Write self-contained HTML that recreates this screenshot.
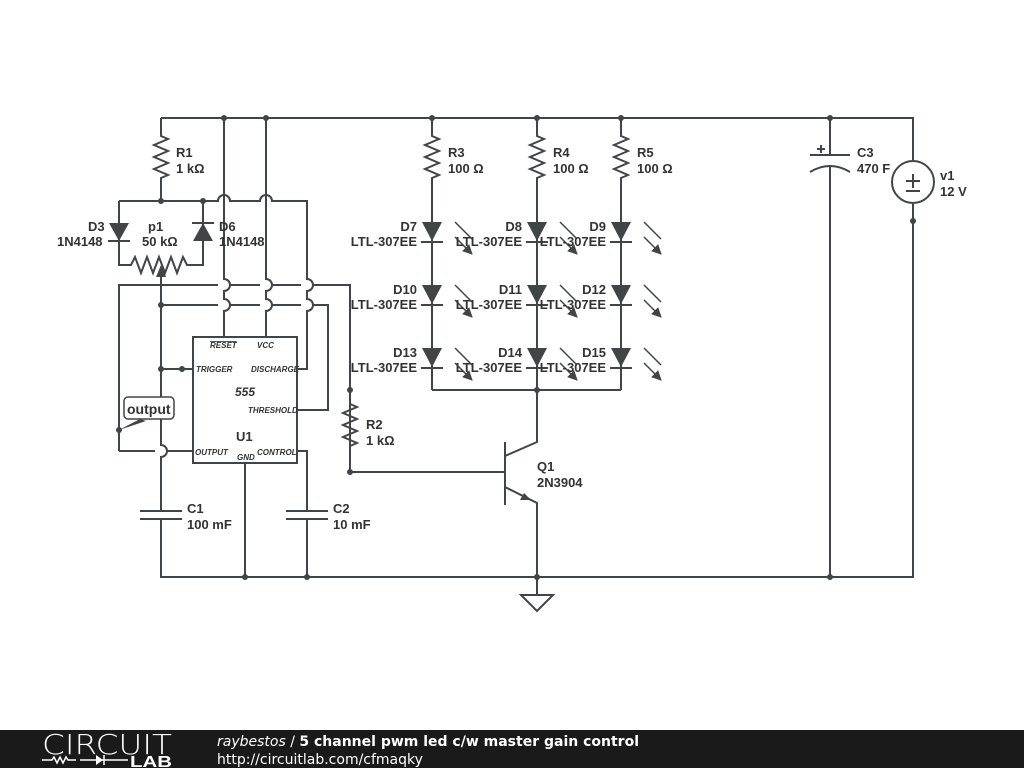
<!DOCTYPE html>
<html><head><meta charset="utf-8"><style>
body{margin:0;width:1024px;height:768px;background:#fff;overflow:hidden}
svg{display:block}
text{font-family:"Liberation Sans",sans-serif;fill:#333}
</style></head><body>
<svg width="1024" height="768" viewBox="0 0 1024 768">
<defs><marker id="m" markerWidth="10" markerHeight="10" refX="9" refY="5" orient="auto" markerUnits="userSpaceOnUse"><path d="M0 0L10 5L0 10Z" fill="#404547"/></marker></defs>
<g stroke="#404547" stroke-width="2" fill="none">
<path d="M161 118H913V160M913 204V577H161V519M161 511V470"/>
<path d="M161 118V136l7 3-14 6 14 6-14 6 14 6-14 6 14 6-7 3V201"/>
<path d="M119 201H218a6 6 0 0 1 12 0H260a6 6 0 0 1 12 0H307V279a6 6 0 0 1 0 12V299a6 6 0 0 1 0 12V369H297"/>
<path d="M119 201V265H131l4-8 6 16 6-16 6 16 6-16 6 16 6-16 6 16 6-16 4 8H203V201"/>
<path d="M224 118V279a6 6 0 0 1 0 12V299a6 6 0 0 1 0 12V337M266 118V279a6 6 0 0 1 0 12V299a6 6 0 0 1 0 12V337"/>
<path d="M119 451V285H218M230 285H260M272 285H301M313 285H350V472H505"/>
<path d="M161 305H218M230 305H260M272 305H301M313 305H328V410H297"/>
<path d="M161 272V445a6 6 0 0 1 0 12V470M161 369H193"/>
<path d="M119 451H155M167 451H193"/>
<rect x="193" y="337" width="104" height="126"/>
<path d="M245 463V577M297 451H307V511M307 519V577"/>
<path d="M140 511H182M140 519H182M286 511H328M286 519H328"/>
<path d="M432 118V136l7 3-14 6 14 6-14 6 14 6-14 6 14 6-7 3V390M537 118V136l7 3-14 6 14 6-14 6 14 6-14 6 14 6-7 3V390M621 118V136l7 3-14 6 14 6-14 6 14 6-14 6 14 6-7 3V390M432 390H621"/>
<path d="M421 242H443M526 242H548M610 242H632M421 305H443M526 305H548M610 305H632M421 368H443M526 368H548M610 368H632"/>
<path d="M350 404l7 3-14 6 14 6-14 6 14 6-14 6 14 6-7 3"/>
<path d="M505 442V505M505 456L537 442V390M505 487L537 503V577"/>
<path d="M537 577V595M521 595H553L537 611Z"/>
<path d="M830 118V155M810 155H850M810 172Q830 160 850 172M830 165V577M817 149h8M821 145v8"/>
<circle cx="913" cy="182" r="21"/>
<path d="M913 174v14M906 181h14M906 191h14"/>
</g>
<g fill="#404547">
<path d="M109 223H129L119 241Z"/><path d="M193 241H213L203 223Z"/>
<path d="M108 241H130M192 223H214" stroke="#404547" stroke-width="2"/>
<path d="M161 265L156 277H166Z"/>
<path d="M422 222H442L432 241Z"/><path d="M527 222H547L537 241Z"/><path d="M611 222H631L621 241Z"/>
<path d="M422 285H442L432 304Z"/><path d="M527 285H547L537 304Z"/><path d="M611 285H631L621 304Z"/>
<path d="M422 348H442L432 367Z"/><path d="M527 348H547L537 367Z"/><path d="M611 348H631L621 367Z"/>
<path d="M531 500L520 500L524 493Z"/>
<circle cx="224" cy="118" r="3"/><circle cx="266" cy="118" r="3"/><circle cx="432" cy="118" r="3"/><circle cx="537" cy="118" r="3"/><circle cx="621" cy="118" r="3"/><circle cx="830" cy="118" r="3"/>
<circle cx="161" cy="201" r="3"/><circle cx="203" cy="201" r="3"/><circle cx="161" cy="305" r="3"/><circle cx="161" cy="369" r="3"/><circle cx="182" cy="369" r="3"/>
<circle cx="350" cy="390" r="3"/><circle cx="350" cy="472" r="3"/><circle cx="537" cy="390" r="3"/><circle cx="913" cy="221" r="3"/>
<circle cx="245" cy="577" r="3"/><circle cx="307" cy="577" r="3"/><circle cx="537" cy="577" r="3"/><circle cx="830" cy="577" r="3"/><circle cx="119" cy="430" r="3"/>
<path d="M119 430L140 419L146 421Z"/>
</g>
<g stroke="#404547" stroke-width="1.5" fill="none">
<path id="a" d="M455 222L472 239M455 237L472 254" marker-end="url(#m)"/>
<use href="#a" x="105"/><use href="#a" x="189"/>
<use href="#a" y="63"/><use href="#a" x="105" y="63"/><use href="#a" x="189" y="63"/>
<use href="#a" y="126"/><use href="#a" x="105" y="126"/><use href="#a" x="189" y="126"/>
</g>
<rect x="124" y="397" width="50" height="22" rx="4" fill="#fff" stroke="#404547" stroke-width="1.5"/>
<text x="127" y="414" font-size="14" font-weight="bold">output</text>
<g font-size="13" font-weight="bold">
<text x="176" y="157">R1</text><text x="176" y="173">1 kΩ</text>
<text x="88" y="231">D3</text><text x="57" y="246">1N4148</text>
<text x="148" y="231">p1</text><text x="142" y="246">50 kΩ</text>
<text x="219" y="231">D6</text><text x="219" y="246">1N4148</text>
<text x="448" y="157">R3</text><text x="448" y="173">100 Ω</text>
<text x="553" y="157">R4</text><text x="553" y="173">100 Ω</text>
<text x="637" y="157">R5</text><text x="637" y="173">100 Ω</text>
<text x="857" y="157">C3</text><text x="857" y="173">470 F</text>
<text x="940" y="180">v1</text><text x="940" y="196">12 V</text>
<text x="366" y="429">R2</text><text x="366" y="445">1 kΩ</text>
<text x="537" y="471">Q1</text><text x="537" y="487">2N3904</text>
<text x="187" y="513">C1</text><text x="187" y="529">100 mF</text>
<text x="333" y="513">C2</text><text x="333" y="529">10 mF</text>
<text x="236" y="441">U1</text>
<g text-anchor="end">
<text x="417" y="231">D7</text><text x="417" y="246">LTL-307EE</text>
<text x="522" y="231">D8</text><text x="522" y="246">LTL-307EE</text>
<text x="606" y="231">D9</text><text x="606" y="246">LTL-307EE</text>
<text x="417" y="294">D10</text><text x="417" y="309">LTL-307EE</text>
<text x="522" y="294">D11</text><text x="522" y="309">LTL-307EE</text>
<text x="606" y="294">D12</text><text x="606" y="309">LTL-307EE</text>
<text x="417" y="357">D13</text><text x="417" y="372">LTL-307EE</text>
<text x="522" y="357">D14</text><text x="522" y="372">LTL-307EE</text>
<text x="606" y="357">D15</text><text x="606" y="372">LTL-307EE</text>
</g>
</g>
<g font-size="8" font-style="italic" font-weight="bold">
<text x="210" y="348" text-decoration="overline">RESET</text><text x="257" y="348">VCC</text>
<text x="196" y="372">TRIGGER</text><text x="251" y="372">DISCHARGE</text>
<text x="248" y="413">THRESHOLD</text>
<text x="195" y="455">OUTPUT</text><text x="237" y="460">GND</text><text x="257" y="455">CONTROL</text>
</g>
<text x="235" y="396" font-size="12" font-style="italic" font-weight="bold">555</text>
<rect x="0" y="730" width="1024" height="38" fill="#1a1a1a"/>
<text x="42" y="754" font-size="28" textLength="130" lengthAdjust="spacingAndGlyphs" style="fill:#fff;font-family:'DejaVu Sans',sans-serif;font-weight:200">CIRCUIT</text>
<text x="130" y="767" font-size="16" font-weight="bold" textLength="42" lengthAdjust="spacingAndGlyphs" style="fill:#fff">LAB</text>
<path d="M42 760h10l2-3 3 6 3-6 3 6 3-6 2 3h8M80 760h48" stroke="#fff" stroke-width="1.5" fill="none"/>
<path d="M96 755v10l7-5z" fill="#fff"/><path d="M104 755v10" stroke="#fff" stroke-width="1.5"/>
<text x="217" y="746" font-size="14" style="fill:#fff;font-family:'DejaVu Sans',sans-serif"><tspan font-style="italic">raybestos</tspan> / <tspan font-weight="bold">5 channel pwm led c/w master gain control</tspan></text>
<text x="217" y="764" font-size="14" style="fill:#fff;font-family:'DejaVu Sans',sans-serif">http://circuitlab.com/cfmaqky</text>
</svg>
</body></html>
